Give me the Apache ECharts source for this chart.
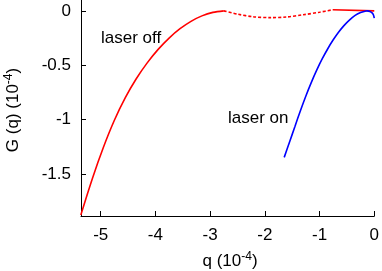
<!DOCTYPE html>
<html><head><meta charset="utf-8">
<script src="https://cdn.jsdelivr.net/npm/echarts@6/dist/echarts.min.js"></script>
<style>html,body{margin:0;padding:0;background:#fff}#c{width:382px;height:271px}</style>
</head><body><div id="c"></div>
<script>
// laser off, solid part (left)
const offLeftX = [-5.363, -5.15, -4.95, -4.75, -4.55, -4.35, -4.15, -3.95, -3.75, -3.55, -3.35, -3.15, -2.95, -2.75];
const offLeftY = [-1.876, -1.538, -1.254, -1.006, -0.798, -0.624, -0.478, -0.354, -0.250, -0.164, -0.096, -0.046, -0.014, 0];
// laser off, dotted middle part
const offMidX = [-2.75, -2.5, -2.2, -1.9, -1.6, -1.3, -1.0, -0.76];
const offMidY = [0, -0.03, -0.055, -0.062, -0.056, -0.036, -0.012, 0.01];
// laser off, solid right part
const offRightX = [-0.76, 0];
const offRightY = [0.01, 0];
// laser on
const onX = [-1.646, -1.55, -1.45, -1.35, -1.25, -1.15, -1.05, -0.95, -0.85, -0.75, -0.65, -0.55, -0.45, -0.35, -0.25, -0.15, -0.13, -0.08, -0.04, -0.015, 0];
const onY = [-1.347, -1.208, -1.063, -0.918, -0.782, -0.657, -0.543, -0.440, -0.348, -0.266, -0.194, -0.133, -0.082, -0.042, -0.015, -0.001, 0, -0.006, -0.019, -0.038, -0.067];
// ticks
const xTicks = [-5, -4, -3, -2, -1, 0];
const yTicks = [0, -0.5, -1, -1.5];
const xRange = [-5.36, 0];
const yRange = [-1.886, 0.1];

const pairs = (xs, ys) => xs.map((x, i) => [x, ys[i]]);
const FONT = 'Liberation Sans';
const chart = echarts.init(document.getElementById('c'), null, {renderer: 'canvas'});
const axisCommon = {
  type: 'value',
  splitLine: {show: false},
  axisLine: {show: true, onZero: false, lineStyle: {color: '#000', width: 1}},
  axisTick: {show: true, inside: true, length: 5, lineStyle: {color: '#000'}},
  axisLabel: {color: '#000', fontSize: 17, fontFamily: FONT}
};
chart.setOption({
  animation: false,
  grid: {left: 81, right: 5, top: 0, bottom: 55},
  xAxis: Object.assign({}, axisCommon, {
    min: xRange[0], max: xRange[1],
    axisTick: Object.assign({}, axisCommon.axisTick, {customValues: xTicks}),
    axisLabel: Object.assign({}, axisCommon.axisLabel, {customValues: xTicks, margin: 11})
  }),
  yAxis: Object.assign({}, axisCommon, {
    min: yRange[0], max: yRange[1],
    axisTick: Object.assign({}, axisCommon.axisTick, {customValues: yTicks}),
    axisLabel: Object.assign({}, axisCommon.axisLabel, {customValues: yTicks, margin: 10})
  }),
  series: [
    {type: 'line', data: pairs(offLeftX, offLeftY), smooth: 0.3, showSymbol: false, lineStyle: {color: '#ff0000', width: 1.6}},
    {type: 'line', data: pairs(offMidX, offMidY), smooth: 0.3, showSymbol: false, lineStyle: {color: '#ff0000', width: 1.6, type: [3, 2]}},
    {type: 'line', data: pairs(offRightX, offRightY), showSymbol: false, lineStyle: {color: '#ff0000', width: 1.6}},
    {type: 'line', data: pairs(onX, onY), smooth: 0.3, showSymbol: false, lineStyle: {color: '#0000ff', width: 1.6}}
  ],
  graphic: [
    {type: 'text', left: 101, top: 30, style: {text: 'laser off', font: '17px ' + FONT, fill: '#000'}},
    {type: 'text', left: 228, top: 110, style: {text: 'laser on', font: '17px ' + FONT, fill: '#000'}},
    {type: 'text', x: 230, y: 261, style: {
      text: '{a|q (10}{s|-4}{a|)}', align: 'center', verticalAlign: 'middle',
      rich: {a: {fontSize: 17, fontFamily: FONT, color: '#000'}, s: {fontSize: 12, fontFamily: FONT, color: '#000', padding: [0, 0, 9, 0]}}
    }},
    {type: 'text', x: 13, y: 110, rotation: Math.PI / 2, style: {
      text: '{a|G (q) (10}{s|-4}{a|)}', align: 'center', verticalAlign: 'middle',
      rich: {a: {fontSize: 17, fontFamily: FONT, color: '#000'}, s: {fontSize: 12, fontFamily: FONT, color: '#000', padding: [0, 0, 9, 0]}}
    }}
  ]
});
</script></body></html>
